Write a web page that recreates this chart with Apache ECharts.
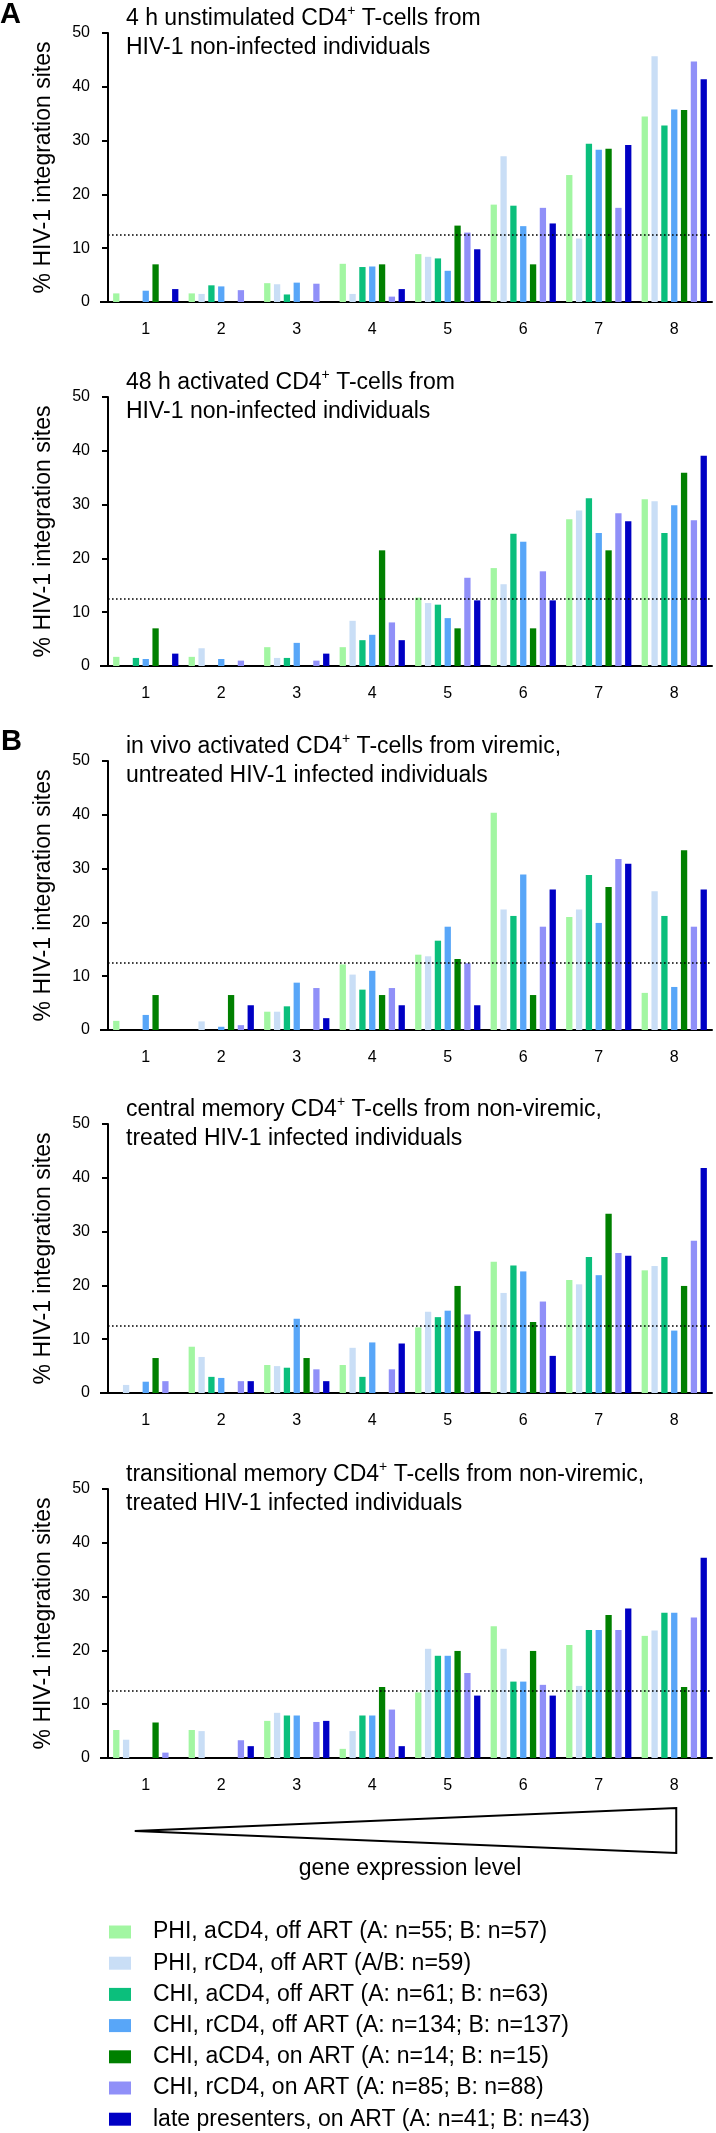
<!DOCTYPE html>
<html><head><meta charset="utf-8">
<script src="https://cdn.jsdelivr.net/npm/echarts@6/dist/echarts.min.js"></script>
<style>html,body{margin:0;padding:0;background:#fff}#chart{width:716px;height:2133px}</style>
</head><body><div id="chart"></div>
<script>
// ---- data ----
const categories = ['1','2','3','4','5','6','7','8'];
const seriesNames = [
  'PHI, aCD4, off ART (A: n=55; B: n=57)',
  'PHI, rCD4, off ART (A/B: n=59)',
  'CHI, aCD4, off ART (A: n=61; B: n=63)',
  'CHI, rCD4, off ART (A: n=134; B: n=137)',
  'CHI, aCD4, on ART (A: n=14; B: n=15)',
  'CHI, rCD4, on ART (A: n=85; B: n=88)',
  'late presenters, on ART (A: n=41; B: n=43)'
];
const seriesColors = ['#a2f6a2','#c9def6','#0bbf7c','#58a6f8','#008000','#9090f8','#0000c4'];
const expectedLevel = 12.5;
const yTickLabels = ['0','10','20','30','40','50'];
const panelTitles = [
  '4 h unstimulated CD4{sup|+} T-cells from\nHIV-1 non-infected individuals',
  '48 h activated CD4{sup|+} T-cells from\nHIV-1 non-infected individuals',
  'in vivo activated CD4{sup|+} T-cells from viremic,\nuntreated HIV-1 infected individuals',
  'central memory CD4{sup|+} T-cells from non-viremic,\ntreated HIV-1 infected individuals',
  'transitional memory CD4{sup|+} T-cells from non-viremic,\ntreated HIV-1 infected individuals'
];
const yAxisTitle = '% HIV-1 integration sites';
const xAxisTitle = 'gene expression level';

// rows follow seriesNames order, columns follow categories
const panel1Values = [
  [1.6, 1.6, 3.5, 7.1, 8.9, 18.1, 23.6, 34.5],
  [0, 1.5, 3.3, 1.5, 8.4, 27.1, 11.8, 45.7],
  [0, 3.1, 1.4, 6.5, 8.1, 17.9, 29.4, 32.8],
  [2.1, 2.9, 3.6, 6.6, 5.8, 14.1, 28.3, 35.8],
  [7.0, 0, 0, 7.0, 14.2, 7.0, 28.5, 35.7],
  [0, 2.2, 3.4, 1.0, 12.9, 17.5, 17.5, 44.7],
  [2.4, 0, 0, 2.4, 9.8, 14.6, 29.2, 41.4]
];
const panel2Values = [
  [1.7, 1.7, 3.5, 3.5, 12.7, 18.2, 27.3, 31.0],
  [0, 3.3, 1.5, 8.4, 11.7, 15.2, 28.9, 30.6],
  [1.5, 0, 1.5, 4.8, 11.4, 24.6, 31.2, 24.7],
  [1.3, 1.3, 4.3, 5.8, 8.9, 23.1, 24.7, 29.9],
  [7.0, 0, 0, 21.5, 7.0, 7.0, 21.5, 35.9],
  [0, 1.0, 1.0, 8.1, 16.4, 17.6, 28.4, 27.1],
  [2.3, 0, 2.3, 4.8, 12.2, 12.2, 26.9, 39.1]
];
const panel3Values = [
  [1.7, 0, 3.4, 12.2, 14.0, 40.4, 21.0, 6.9],
  [0, 1.6, 3.4, 10.3, 13.7, 22.4, 22.4, 25.8],
  [0, 0, 4.4, 7.5, 16.6, 21.2, 28.8, 21.2],
  [2.8, 0.6, 8.8, 11.0, 19.2, 28.9, 19.9, 8.0],
  [6.5, 6.5, 0, 6.5, 13.2, 6.5, 26.6, 33.4],
  [0, 0.9, 7.8, 7.8, 12.4, 19.2, 31.8, 19.2],
  [0, 4.6, 2.2, 4.6, 4.6, 26.1, 30.9, 26.1]
];
const panel4Values = [
  [0, 8.6, 5.2, 5.2, 12.2, 24.4, 21.0, 22.8],
  [1.5, 6.7, 5.0, 8.4, 15.1, 18.6, 20.2, 23.6],
  [0, 3.0, 4.7, 3.0, 14.1, 23.7, 25.3, 25.3],
  [2.1, 2.8, 13.8, 9.4, 15.3, 22.6, 21.9, 11.6],
  [6.5, 0, 6.5, 0, 19.9, 13.2, 33.3, 19.9],
  [2.2, 2.2, 4.4, 4.4, 14.6, 17.0, 26.0, 28.3],
  [0, 2.2, 2.2, 9.2, 11.5, 6.9, 25.5, 41.8]
];
const panel5Values = [
  [5.2, 5.2, 6.9, 1.7, 12.2, 24.5, 21.0, 22.7],
  [3.4, 5.0, 8.4, 5.0, 20.3, 20.3, 13.4, 23.7],
  [0, 0, 7.9, 7.9, 19.0, 14.2, 23.8, 27.0],
  [0, 0, 7.9, 7.9, 19.0, 14.2, 23.8, 27.0],
  [6.6, 0, 0, 13.2, 19.9, 19.9, 26.6, 13.2],
  [1.0, 3.3, 6.7, 9.0, 15.8, 13.6, 23.8, 26.1],
  [0, 2.2, 6.9, 2.2, 11.6, 11.6, 27.8, 37.2]
];
const panels = [panel1Values, panel2Values, panel3Values, panel4Values, panel5Values];

// ---- layout ----
const FONT = "'Liberation Sans', Arial, Helvetica, sans-serif";
const panelTops = [33, 397, 761, 1124, 1489];
const panelHeight = 269;
const gridLeft = 108, gridWidth = 604;

const grid = [], xAxis = [], yAxis = [], series = [], title = [];
panels.forEach((vals, p) => {
  grid.push({left: gridLeft, width: gridWidth, top: panelTops[p], height: panelHeight});
  xAxis.push({
    type: 'category', gridIndex: p, data: categories,
    axisLine: {lineStyle: {color: '#000', width: 2}},
    axisTick: {alignWithLabel: true, length: 7, lineStyle: {color: '#000', width: 2}},
    axisLabel: {color: '#000', fontSize: 16, fontFamily: FONT, margin: 20}
  });
  yAxis.push({
    type: 'value', gridIndex: p, min: 0, max: 50, interval: 10,
    name: yAxisTitle, nameLocation: 'middle', nameRotate: 90, nameGap: 53,
    nameTextStyle: {fontSize: 23, fontFamily: FONT, color: '#000'},
    axisLine: {show: true, lineStyle: {color: '#000', width: 2}},
    axisTick: {show: true, length: 6, lineStyle: {color: '#000', width: 2}},
    axisLabel: {color: '#000', fontSize: 16, fontFamily: FONT, margin: 18,
      formatter: v => yTickLabels[Math.round(v / 10)]},
    splitLine: {show: false}
  });
  title.push({
    text: panelTitles[p], left: 126, top: panelTops[p] - 29, padding: 0,
    textStyle: {fontSize: 23, lineHeight: 29, fontWeight: 'normal', color: '#000', fontFamily: FONT,
      rich: {sup: {fontSize: 14, lineHeight: 14, verticalAlign: 'top', color: '#000', fontFamily: FONT, padding: [0, 0, 6, 0]}}}
  });
  vals.forEach((row, s) => {
    const ser = {
      name: seriesNames[s], type: 'bar', xAxisIndex: p, yAxisIndex: p,
      data: row, barWidth: 6.3, barGap: '56%',
      itemStyle: {color: seriesColors[s]},
      animation: false
    };
    if (s === 0) {
      ser.markLine = {
        silent: true, symbol: ['none', 'none'], label: {show: false},
        lineStyle: {color: '#000', type: [1.6, 2.4], width: 1.6},
        data: [{yAxis: expectedLevel}]
      };
    }
    series.push(ser);
  });
});

const chart = echarts.init(document.getElementById('chart'), null, {renderer: 'canvas'});
chart.setOption({
  animation: false,
  backgroundColor: '#fff',
  textStyle: {fontFamily: FONT},
  title: title,
  grid: grid, xAxis: xAxis, yAxis: yAxis, series: series,
  legend: {
    data: seriesNames, orient: 'vertical', left: 109, top: 1920, padding: 0,
    itemWidth: 22, itemHeight: 13, itemGap: 7.2, icon: 'rect',
    selectedMode: false,
    textStyle: {fontSize: 23, lineHeight: 24, color: '#000', fontFamily: FONT, padding: [0, 0, 0, 17]}
  }
});

// decoration: triangle under the last panel, panel letters, x-axis overhang left of the y axis
const x1 = chart.convertToPixel({xAxisIndex: 4}, categories[0]);
const x8 = chart.convertToPixel({xAxisIndex: 4}, categories[7]);
const graphics = [
  {type: 'polygon', shape: {points: [[x1 - 11, 1831], [x8 + 2, 1808], [x8 + 2, 1853]]},
   style: {fill: '#fff', stroke: '#000', lineWidth: 2}},
  {type: 'text', x: (x1 + x8) / 2, y: 1869,
   style: {text: xAxisTitle, font: "23px " + FONT, fill: '#000', textAlign: 'center', textVerticalAlign: 'middle'}},
  {type: 'text', x: 0, y: 15,
   style: {text: 'A', font: "bold 29px " + FONT, fill: '#000', textAlign: 'left', textVerticalAlign: 'middle'}},
  {type: 'text', x: 1, y: 742,
   style: {text: 'B', font: "bold 29px " + FONT, fill: '#000', textAlign: 'left', textVerticalAlign: 'middle'}}
];
panels.forEach((v, p) => {
  const y0 = chart.convertToPixel({yAxisIndex: p}, 0);
  graphics.push({type: 'line', shape: {x1: gridLeft - 8, y1: y0, x2: gridLeft, y2: y0},
    style: {stroke: '#000', lineWidth: 2}});
});
chart.setOption({graphic: graphics});
</script>
</body></html>
